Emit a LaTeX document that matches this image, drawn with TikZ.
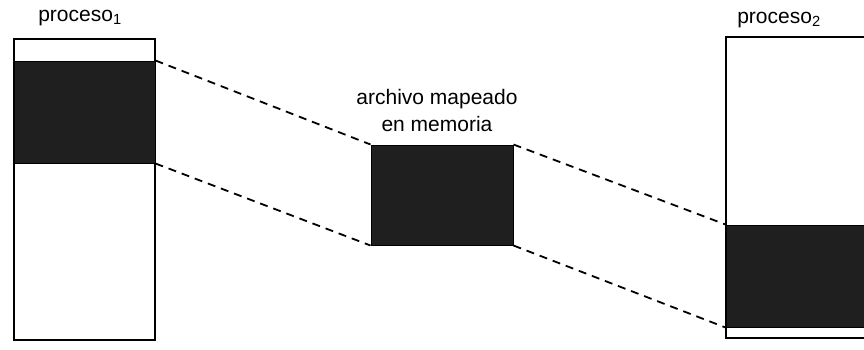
\documentclass[tikz,border=0pt]{standalone}
\usepackage{fontspec}
\setmainfont{Liberation Sans}
\usetikzlibrary{positioning}

\begin{document}
\begin{tikzpicture}[x=1pt, y=-1pt,
    memory/.style={draw=black, line width=1.6pt, minimum width=141pt, inner sep=0pt},
    mapped/.style={fill=black!88, draw=black, line width=1pt, minimum width=141pt, inner sep=0pt},
    link/.style={line width=1.8pt, dash pattern=on 8pt off 6pt},
    titletext/.style={font=\fontsize{21}{27}\selectfont, align=center, inner sep=0pt},
  ]
  \useasboundingbox (0,0) rectangle (864,349);
  % proceso 1
  \node[memory, minimum height=301pt] (p1) at (84.5,189.5) {};
  \node[mapped, minimum height=102pt] (m1) at (84.5,112) {};
  \node[titletext] (t1) at (80,18) {proceso\textsubscript{1}};
  % archivo
  \node[mapped, minimum width=142pt, minimum height=100pt] (file) at (442,195) {};
  \node[titletext] (tf) at (437,110) {archivo mapeado\\en memoria};
  % proceso 2
  \node[memory, minimum width=154pt, minimum height=301pt] (p2) at (803,187.5) {};
  \node[mapped, minimum width=154pt, minimum height=102pt] (m2) at (803,276) {};
  \node[titletext] (t2) at (779,20) {proceso\textsubscript{2}};
  % enlaces
  \draw[link] (m1.north east) -- (file.north west);
  \draw[link] (m1.south east) -- (file.south west);
  \draw[link] (file.north east) -- (m2.north west);
  \draw[link] (file.south east) -- (m2.south west);
\end{tikzpicture}
\end{document}
